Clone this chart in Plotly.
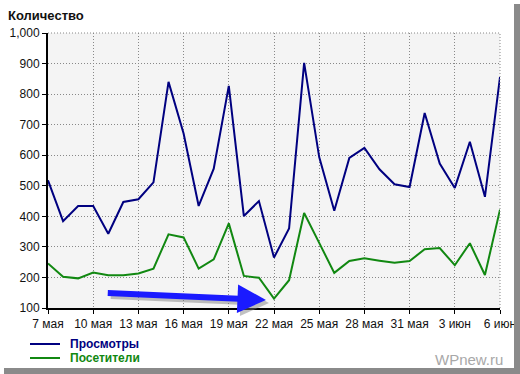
import plotly.graph_objects as go
import pandas as pd

dates = pd.date_range("2010-05-07", "2010-06-06", freq="D")
views = [518, 384, 434, 434, 343, 447, 456, 511, 840, 671, 434, 556, 827, 401, 450, 265,
         360, 902, 594, 418, 591, 624, 554, 505, 496, 738, 573, 493, 644, 464, 856]
visitors = [246, 202, 197, 216, 207, 207, 213, 229, 341, 331, 229, 259, 377, 205, 199, 131,
            191, 411, 313, 215, 254, 263, 255, 248, 254, 292, 296, 240, 312, 208, 422]
tick_dates = pd.date_range("2010-05-07", "2010-06-06", freq="3D")
tick_labels = ["7 мая", "10 мая", "13 мая", "16 мая", "19 мая", "22 мая", "25 мая",
               "28 мая", "31 мая", "3 июн", "6 июн"]
y_ticks = [100, 200, 300, 400, 500, 600, 700, 800, 900, 1000]
series_names = ["Просмотры", "Посетители"]
series_colors = ["#000080", "#118811"]

fig = go.Figure()
fig.add_trace(go.Scatter(x=dates, y=views, mode="lines", name=series_names[0],
                         line=dict(color=series_colors[0], width=2), showlegend=False))
fig.add_trace(go.Scatter(x=dates, y=visitors, mode="lines", name=series_names[1],
                         line=dict(color=series_colors[1], width=2), showlegend=False))

font = "Liberation Sans, Arial, sans-serif"
grid_dash = "1px,2px"

fig.update_layout(
    width=520, height=374, autosize=False,
    margin=dict(l=48, r=20, t=33, b=66),
    paper_bgcolor="white",
    plot_bgcolor="#f4f4f4",
    font=dict(family=font, size=12, color="#111"),
    xaxis=dict(range=[dates[0], dates[-1]], tickvals=tick_dates, ticktext=tick_labels,
               automargin=False,
               showgrid=True, gridcolor="#888888", griddash=grid_dash, gridwidth=1,
               showline=True, linecolor="black", linewidth=2,
               ticks="outside", ticklen=4, tickcolor="black", tickwidth=1,
               tickfont=dict(size=12, color="#111"), zeroline=False),
    yaxis=dict(range=[100, 1000], tickvals=y_ticks, tickformat=",",
               automargin=False,
               showgrid=True, gridcolor="#888888", griddash=grid_dash, gridwidth=1,
               showline=True, linecolor="black", linewidth=2,
               ticks="outside", ticklen=4, tickcolor="black", tickwidth=1,
               tickfont=dict(size=12, color="#111"), zeroline=False),
)

# top and right dotted borders of plot area
fig.add_shape(type="line", xref="paper", yref="paper", x0=0, x1=1, y0=1, y1=1,
              line=dict(color="#888888", width=1, dash=grid_dash))
fig.add_shape(type="line", xref="paper", yref="paper", x0=1, x1=1, y0=0, y1=1,
              line=dict(color="#888888", width=1, dash=grid_dash))

# title
fig.add_annotation(text="<b>Количество</b>", xref="paper", yref="paper",
                   x=-42/452, y=1 + 18/275, xanchor="left", yanchor="middle",
                   showarrow=False, font=dict(size=13, color="#111", family=font))

# legend drawn manually
for i, (nm, col) in enumerate(zip(series_names, series_colors)):
    ypix = 344 + 14 * i
    yp = (308 - ypix) / 275
    fig.add_shape(type="line", xref="paper", yref="paper",
                  x0=(30 - 48) / 452, x1=(60 - 48) / 452, y0=yp, y1=yp,
                  line=dict(color=col, width=2))
    fig.add_annotation(text="<b>" + nm + "</b>", xref="paper", yref="paper",
                       x=(68 - 48) / 452, y=yp, xanchor="left", yanchor="middle",
                       showarrow=False, font=dict(size=12, color=col, family=font))

# watermark
fig.add_annotation(text="WPnew.ru", xref="paper", yref="paper",
                   x=(505 - 48) / 452, y=(308 - 360) / 275, xanchor="right", yanchor="middle",
                   showarrow=False, font=dict(size=15, color="#a8a8a8", family=font))

# drop shadow frame (right and bottom)
fig.add_shape(type="rect", xref="paper", yref="paper",
              x0=(514 - 48) / 452, x1=(520 - 48) / 452, y0=(308 - 374) / 275, y1=(308 - 4) / 275,
              line=dict(width=0), fillcolor="#8a8a8a", layer="above")
fig.add_shape(type="rect", xref="paper", yref="paper",
              x0=(4 - 48) / 452, x1=(520 - 48) / 452, y0=(308 - 374) / 275, y1=(308 - 368) / 275,
              line=dict(width=0), fillcolor="#8a8a8a", layer="above")

# blue arrow with shadow
def px2x(px):
    return dates[0] + pd.Timedelta(days=(px - 48) / 15)

def py2y(py):
    return 1000 - (py - 33) / 275 * 900

fig.add_annotation(x=px2x(268), y=py2y(303), ax=px2x(109), ay=py2y(296),
                   xref="x", yref="y", axref="x", ayref="y", text="",
                   showarrow=True, arrowhead=2, arrowsize=0.95, arrowwidth=6,
                   arrowcolor="rgba(120,120,120,0.45)")
fig.add_annotation(x=px2x(265), y=py2y(300), ax=px2x(106), ay=py2y(293),
                   xref="x", yref="y", axref="x", ayref="y", text="",
                   showarrow=True, arrowhead=2, arrowsize=0.95, arrowwidth=6,
                   arrowcolor="#1a1aff")

fig.write_html(
    "out.html",
    config={"displayModeBar": False, "responsive": False},
    post_script=("document.body.style.margin='0';"
                 "document.body.style.overflow='hidden';"
                 "document.documentElement.style.overflow='hidden';"),
)
